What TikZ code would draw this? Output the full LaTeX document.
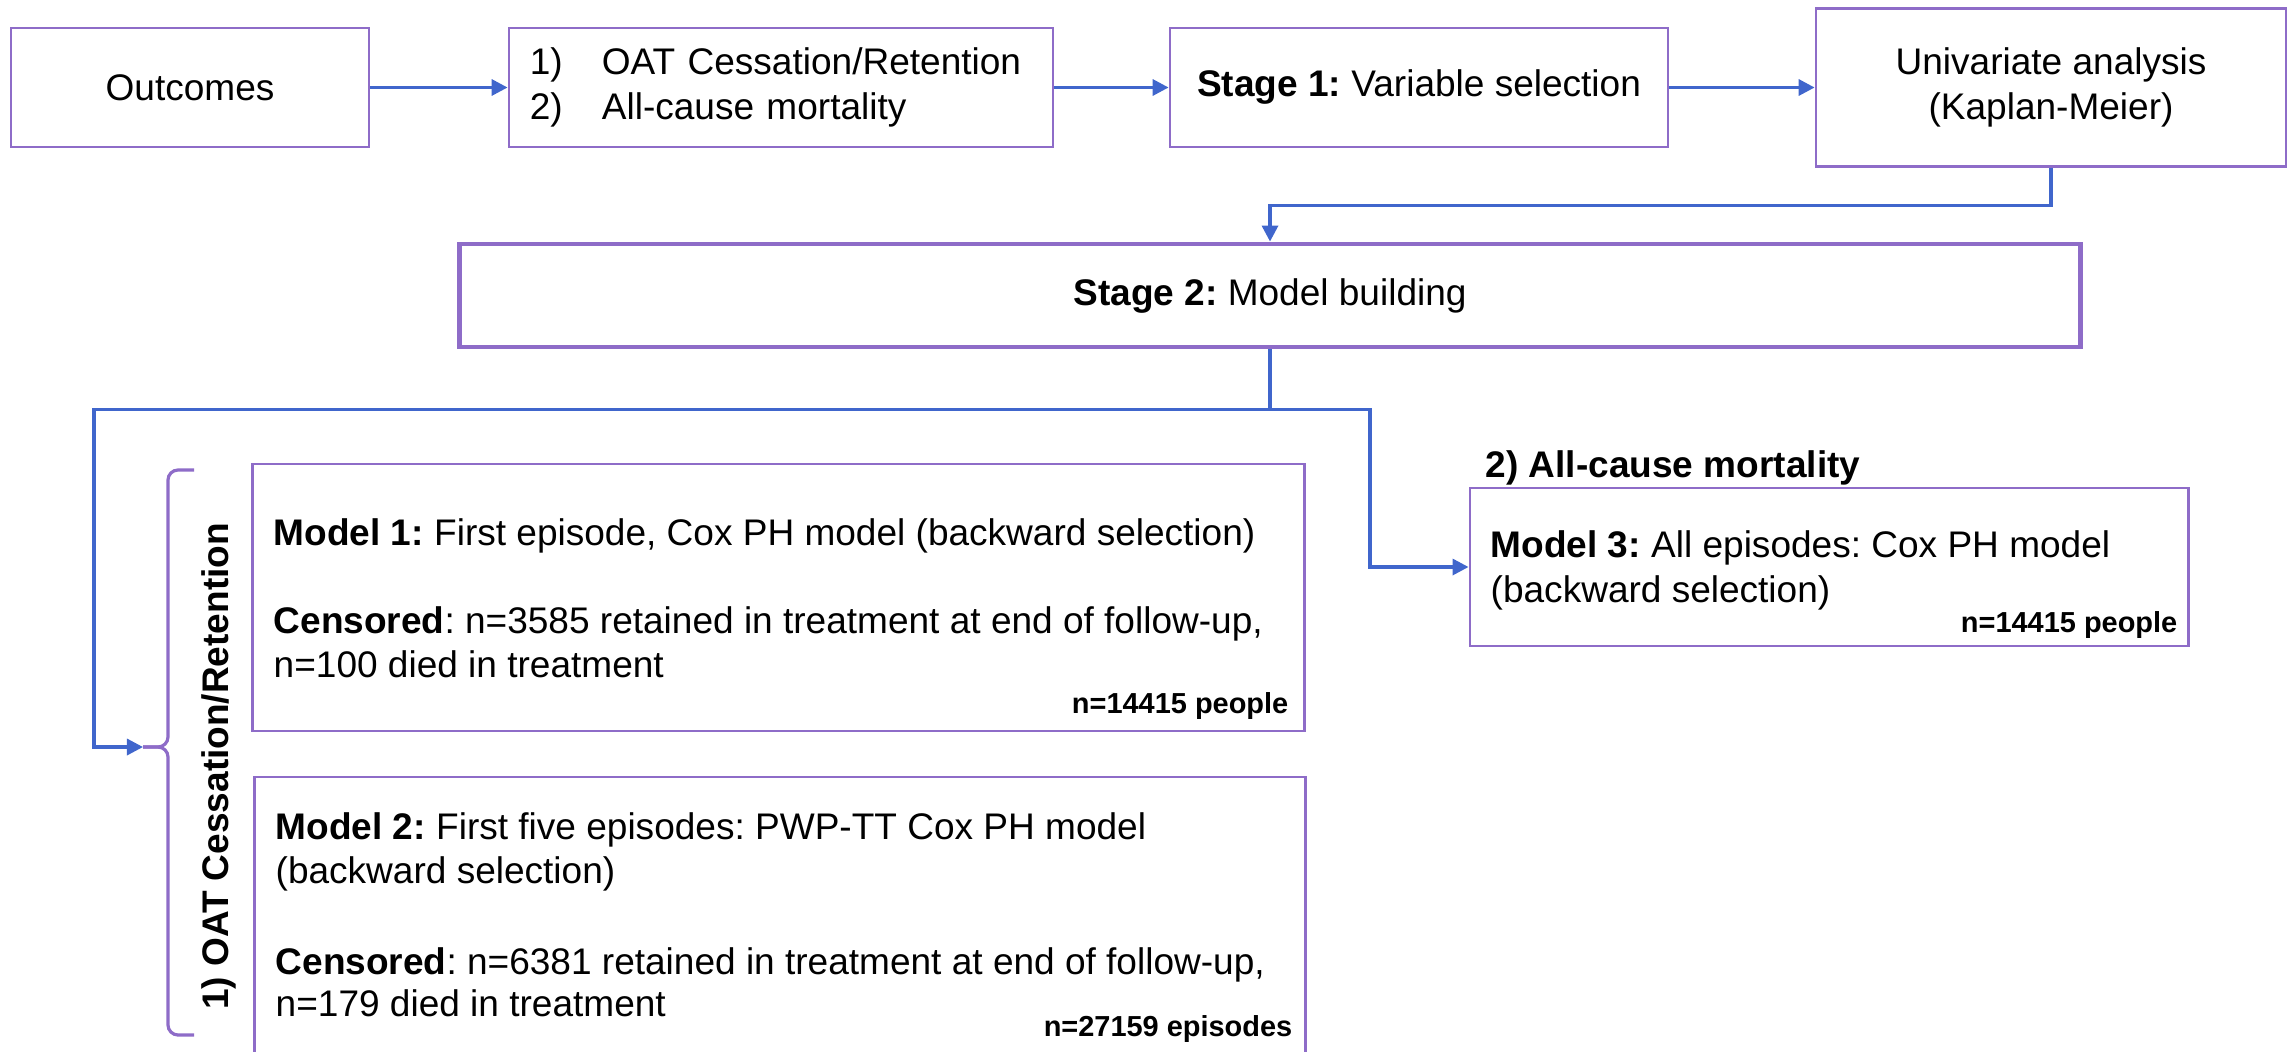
\documentclass[tikz,border=0pt]{standalone}
\usepackage{fontspec}
\setmainfont{Liberation Sans}
\usetikzlibrary{arrows.meta}
\definecolor{purp}{RGB}{142,108,200}
\definecolor{blu}{RGB}{64,102,204}
\newcommand{\mainsz}{\fontsize{10.53pt}{12.63pt}\selectfont\frenchspacing}
\newcommand{\smallsz}{\fontsize{8.23pt}{9.9pt}\selectfont\frenchspacing}
\begin{document}
\begin{tikzpicture}[x=0.01cm, y=-0.01cm,
  box/.style={draw=purp, line width=0.025cm, inner sep=0pt, font=\mainsz},
  bigbox/.style={draw=purp, line width=0.048cm, inner sep=0pt, font=\mainsz},
  txt/.style={inner sep=0pt, font=\mainsz},
  smalltxt/.style={inner sep=0pt, font=\smallsz\bfseries},
  conn/.style={draw=blu, line width=0.033cm},
  arr/.style={conn, -{Triangle[length=0.16cm,width=0.16cm]}},
  bracepath/.style={draw=purp, line width=0.032cm, rounded corners=0.1cm}]
\useasboundingbox (0,0) rectangle (2292,1051);
\clip (0,0) rectangle (2292,1051);

% top row
\node[box, minimum width=3.58cm, minimum height=1.19cm] (out) at (190,87.5) {Outcomes};
\node[box, minimum width=5.44cm, minimum height=1.19cm, text width=5.02cm, inner xsep=0.21cm, align=left] (oc) at (781,87.5)
  {\makebox[0.72cm][l]{1)}OAT Cessation/Retention\\\makebox[0.72cm][l]{2)}All-cause mortality};
\node[box, minimum width=4.98cm, minimum height=1.19cm] (s1) at (1419,87.5) {\textbf{Stage 1:} Variable selection};
\node[box, minimum width=4.70cm, minimum height=1.58cm, align=center] (uni) at (2051,87.5) {Univariate analysis\\(Kaplan-Meier)};

% stage 2
\node[bigbox, minimum width=16.20cm, minimum height=1.03cm] (s2) at (1270,295.5) {\textbf{Stage 2:} Model building};

% model boxes
\node[box, minimum width=10.51cm, minimum height=2.67cm] (m1) at (778.5,597.5) {};
\node[box, minimum width=10.505cm, minimum height=2.90cm] (m2) at (780,922) {};
\node[box, minimum width=7.18cm, minimum height=1.58cm] (m3) at (1829,567) {};

% model 1 text
\node[txt, anchor=base west] (m1a) at (273,545) {\textbf{Model 1:} First episode, Cox PH model (backward selection)};
\node[txt, anchor=base west] (m1b) at (273,633.5) {\textbf{Censored}: n=3585 retained in treatment at end of follow-up,};
\node[txt, anchor=base west] (m1c) at (273,677) {n=100 died in treatment};
\node[smalltxt, anchor=base east] (m1n) at (1289,713.6) {n=14415 people};

% model 2 text
\node[txt, anchor=base west] (m2a) at (275,839) {\textbf{Model 2:} First five episodes: PWP-TT Cox PH model};
\node[txt, anchor=base west] (m2b) at (275,883) {(backward selection)};
\node[txt, anchor=base west] (m2c) at (275,974) {\textbf{Censored}: n=6381 retained in treatment at end of follow-up,};
\node[txt, anchor=base west] (m2d) at (275,1016.5) {n=179 died in treatment};
\node[smalltxt, anchor=base east] (m2n) at (1293,1036) {n=27159 episodes};

% model 3 text
\node[txt, anchor=base west, font=\mainsz\bfseries] (mort) at (1485,477) {2) All-cause mortality};
\node[txt, anchor=base west] (m3a) at (1490,557) {\textbf{Model 3:} All episodes: Cox PH model};
\node[txt, anchor=base west] (m3b) at (1490,602) {(backward selection)};
\node[smalltxt, anchor=base east] (m3n) at (2178,632) {n=14415 people};

% brace and rotated label
\coordinate (bt) at (143,747);
\draw[bracepath] (194,470) -- (168,470) -- (168,747) -- (bt);
\draw[bracepath] (bt) -- (168,747) -- (168,1035) -- (194,1035);
\node[txt, font=\mainsz\bfseries, rotate=90, anchor=base] (oatlbl) at (228,766.5) {1) OAT Cessation/Retention};

% connectors
\draw[arr] (out.east) -- (oc.west);
\draw[arr] (oc.east) -- (s1.west);
\draw[arr] (s1.east) -- (uni.west);
\draw[arr] (uni.south) -- ++(0,38) -| (s2.north);
\coordinate (split) at (1270,409.5);
\draw[conn] (s2.south) -- (split);
\draw[arr] (split) -| (94,747) -- (bt);
\draw[arr] (split) -- (1370,409.5) |- (m3.west);
\end{tikzpicture}
\end{document}
